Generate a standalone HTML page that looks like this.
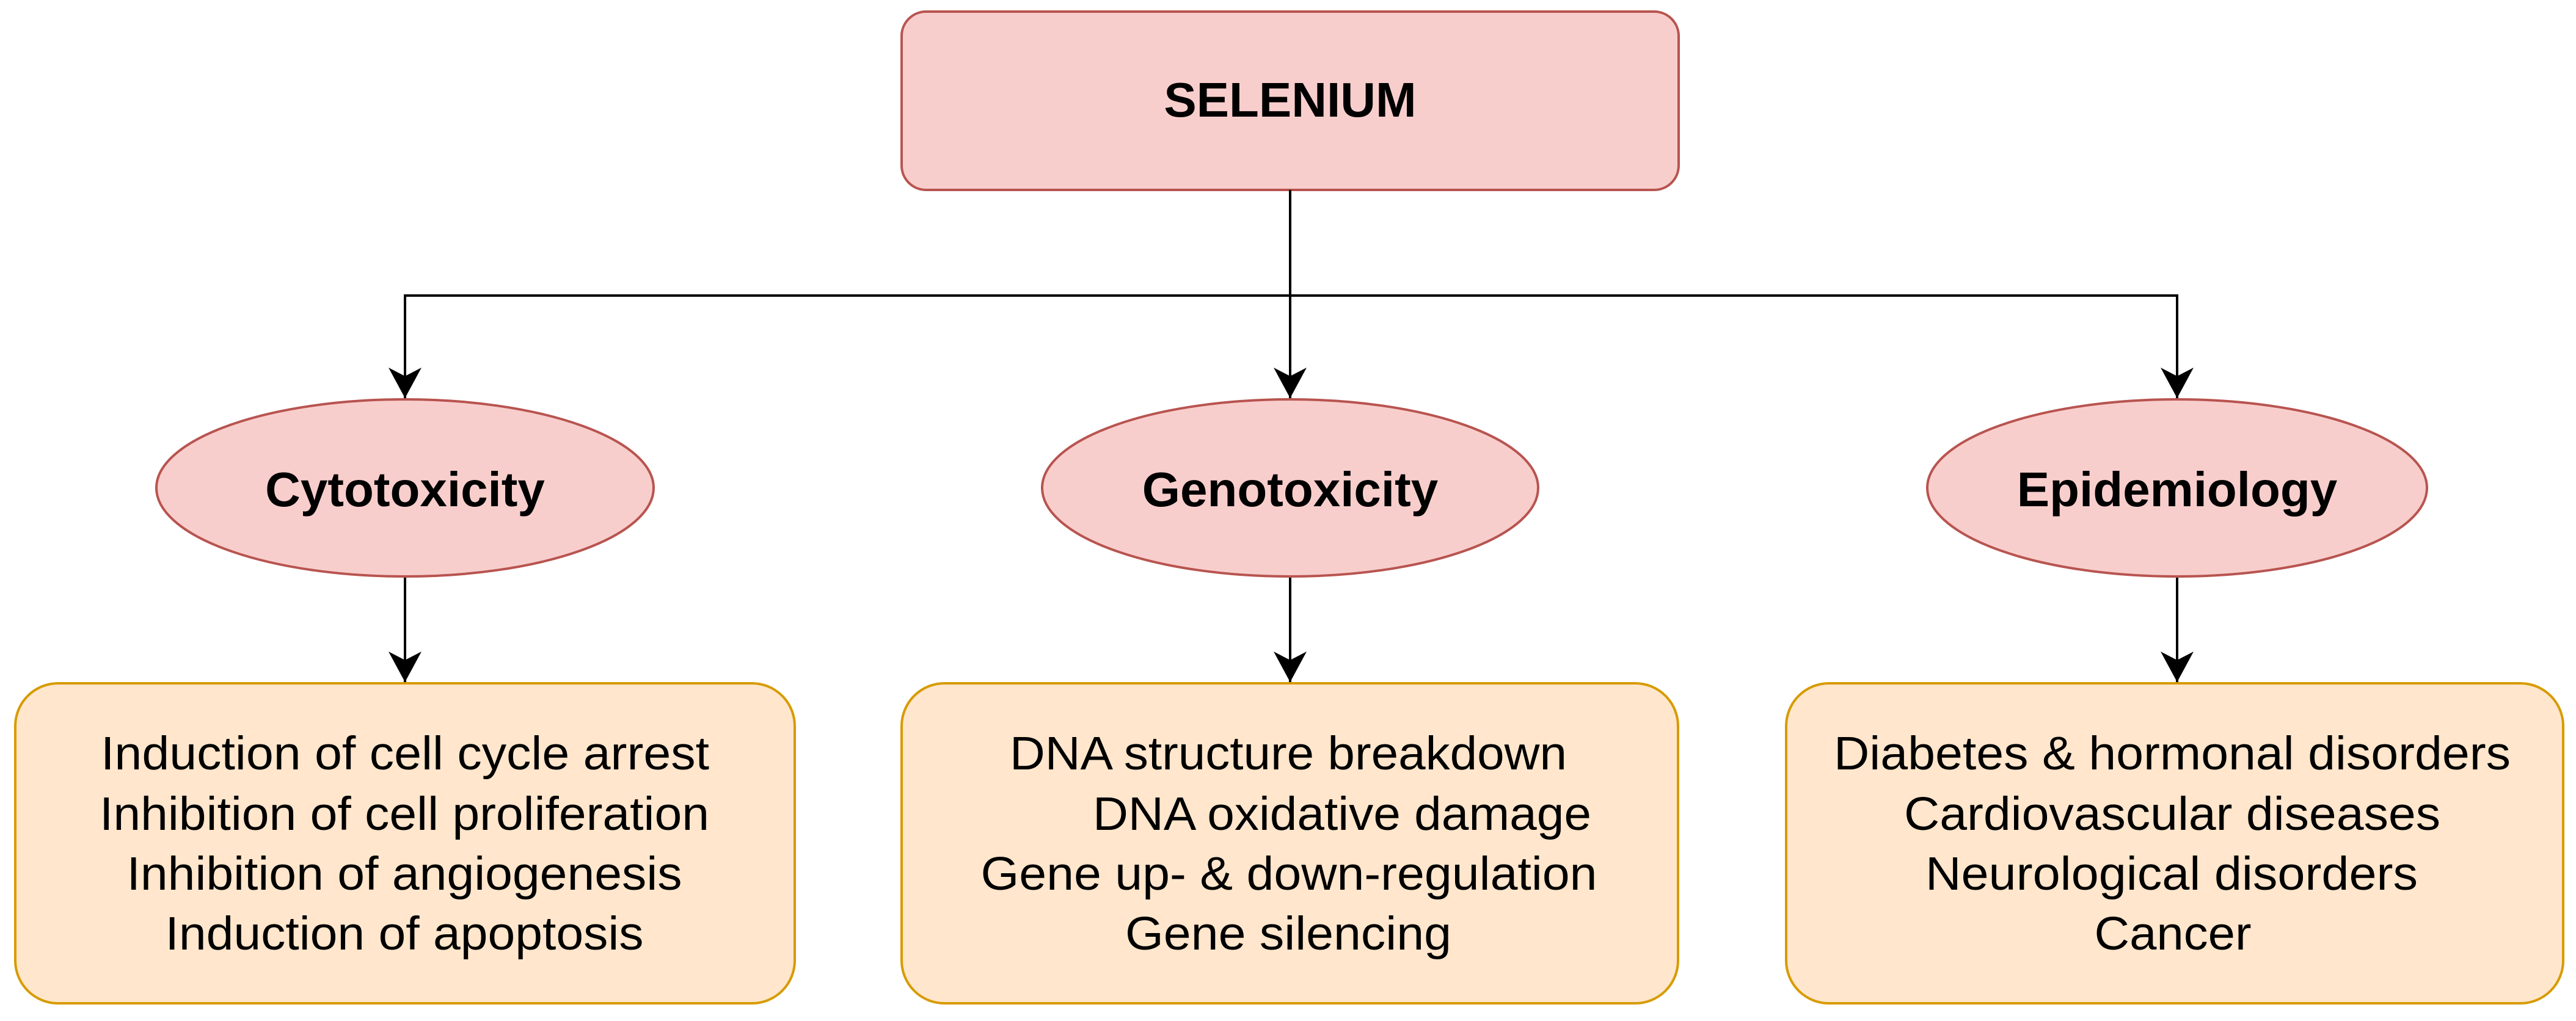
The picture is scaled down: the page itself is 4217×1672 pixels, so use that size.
<!DOCTYPE html>
<html><head><meta charset="utf-8"><style>html,body{margin:0;padding:0;background:#fff}svg{display:block}</style></head>
<body>
<svg width="4217" height="1672" viewBox="0 0 4217 1672" xmlns="http://www.w3.org/2000/svg" font-family="Liberation Sans, Arial, sans-serif">
<defs>
<marker id="a" markerWidth="54" markerHeight="54" refX="27" refY="50" markerUnits="userSpaceOnUse" orient="0">
<path d="M0,0 L27,50 L54,0 L27,14 Z" fill="#000"/>
</marker>
</defs>
<rect x="1476" y="19" width="1272" height="292" rx="40" fill="#f8cecc" stroke="#b85450" stroke-width="4"/>
<text x="2112" y="191" font-size="80" font-weight="bold" text-anchor="middle">SELENIUM</text>

<g stroke="#000" stroke-width="4" fill="none">
<line x1="2112" y1="311" x2="2112" y2="652" marker-end="url(#a)"/>
<polyline points="663,652 663,484 3564,484 3564,652"/>
<line x1="663" y1="600" x2="663" y2="652" marker-end="url(#a)"/>
<line x1="3564" y1="600" x2="3564" y2="652" marker-end="url(#a)"/>
<line x1="663" y1="945" x2="663" y2="1117" marker-end="url(#a)"/>
<line x1="2112" y1="945" x2="2112" y2="1117" marker-end="url(#a)"/>
<line x1="3564" y1="945" x2="3564" y2="1117" marker-end="url(#a)"/>
</g>

<g fill="#f8cecc" stroke="#b85450" stroke-width="4">
<ellipse cx="663" cy="799" rx="407" ry="145"/>
<ellipse cx="2112" cy="799" rx="406" ry="145"/>
<ellipse cx="3564" cy="799" rx="409" ry="145"/>
</g>
<g font-size="80" font-weight="bold" text-anchor="middle">
<text x="663" y="829">Cytotoxicity</text>
<text x="2112" y="829">Genotoxicity</text>
<text x="3564" y="829">Epidemiology</text>
</g>

<g fill="#ffe6cc" stroke="#d79b00" stroke-width="4">
<rect x="25" y="1119" width="1276" height="524" rx="70"/>
<rect x="1476" y="1119" width="1271" height="524" rx="70"/>
<rect x="2924" y="1119" width="1272" height="524" rx="70"/>
</g>
<g font-size="77" text-anchor="middle" lengthAdjust="spacingAndGlyphs">
<text x="663" y="1260" textLength="996" lengthAdjust="spacingAndGlyphs">Induction of cell cycle arrest</text>
<text x="662" y="1359" textLength="998" lengthAdjust="spacingAndGlyphs">Inhibition of cell proliferation</text>
<text x="662" y="1457" textLength="909" lengthAdjust="spacingAndGlyphs">Inhibition of angiogenesis</text>
<text x="662" y="1555" textLength="783" lengthAdjust="spacingAndGlyphs">Induction of apoptosis</text>

<text x="2109" y="1260" textLength="912" lengthAdjust="spacingAndGlyphs">DNA structure breakdown</text>
<text x="2197" y="1359" textLength="816" lengthAdjust="spacingAndGlyphs">DNA oxidative damage</text>
<text x="2110" y="1457" textLength="1009" lengthAdjust="spacingAndGlyphs">Gene up- &amp; down-regulation</text>
<text x="2109" y="1555" textLength="534" lengthAdjust="spacingAndGlyphs">Gene silencing</text>

<text x="3556" y="1260" textLength="1108" lengthAdjust="spacingAndGlyphs">Diabetes &amp; hormonal disorders</text>
<text x="3556" y="1359" textLength="878" lengthAdjust="spacingAndGlyphs">Cardiovascular diseases</text>
<text x="3555" y="1457" textLength="806" lengthAdjust="spacingAndGlyphs">Neurological disorders</text>
<text x="3557" y="1555" textLength="257" lengthAdjust="spacingAndGlyphs">Cancer</text>
</g>
</svg>
</body></html>
